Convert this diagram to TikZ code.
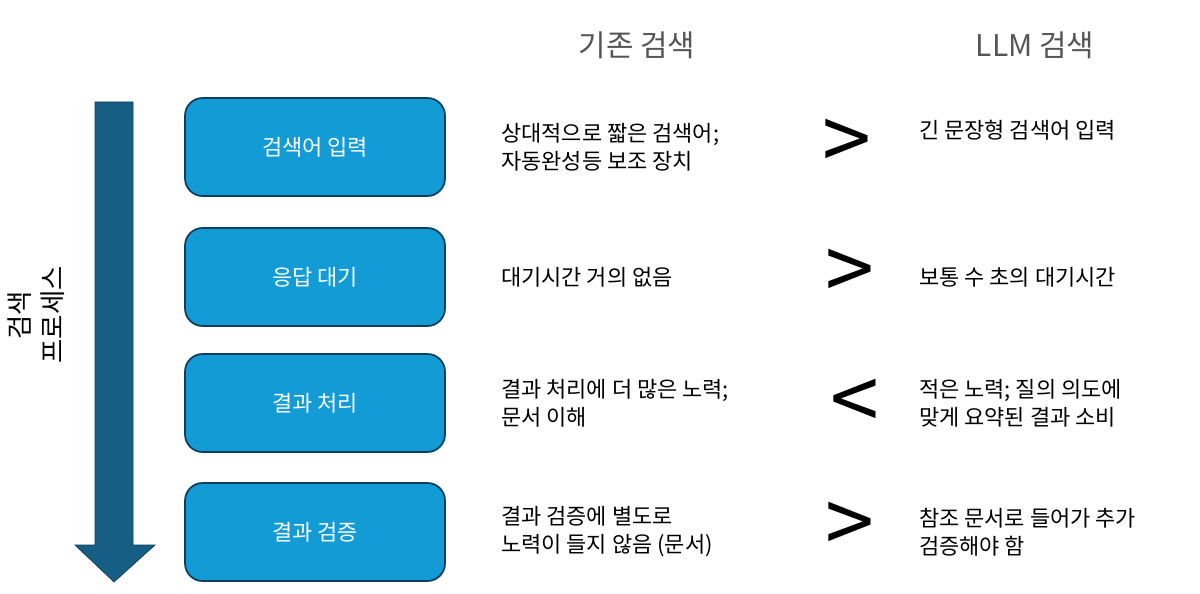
\documentclass[tikz,border=0pt]{standalone}
\usepackage{fontspec}
\setmainfont{Noto Sans CJK KR}
\usetikzlibrary{positioning,shapes.arrows}
\definecolor{boxblue}{HTML}{139BD6}
\definecolor{boxline}{HTML}{0D3F5C}
\definecolor{arrblue}{HTML}{165E84}
\definecolor{headgray}{HTML}{555555}

\begin{document}
\begin{tikzpicture}[x=0.02cm,y=-0.02cm,
  step box/.style={rectangle, rounded corners=10pt, draw=boxline, line width=1pt, fill=boxblue,
    minimum width=5.2cm, minimum height=1.96cm, text=white, font=\fontsize{12.5}{15}\selectfont},
  desc/.style={anchor=west, align=left, font=\fontsize{12.5}{16}\selectfont},
  cmp/.style={font=\fontsize{50}{50}\selectfont},
  head/.style={text=headgray, font=\fontsize{17}{20}\selectfont}]
  \useasboundingbox (0,0) rectangle (1200,594);

  \node[head] (H1) at (637,45) {기존 검색};
  \node[head] (H2) at (1035,45) {LLM 검색};

  % process arrow
  \fill[arrblue, draw=boxline] (95,102) -- (133,102) -- (133,545) -- (155,545)
    -- (114,582) -- (75,545) -- (95,545) -- cycle;
  \node[rotate=90, align=center, font=\fontsize{15}{19}\selectfont] (P) at (36,315) {검색\\프로세스};

  \node[step box] (S1) at (315,147) {검색어 입력};
  \node[step box] (S2) at (315,277) {응답 대기};
  \node[step box] (S3) at (315,403) {결과 처리};
  \node[step box] (S4) at (315,532) {결과 검증};

  \node[desc] (A1) at (495,147) {상대적으로 짧은 검색어;\\자동완성등 보조 장치};
  \node[desc] (A2) at (495,277) {대기시간 거의 없음};
  \node[desc] (A3) at (495,403) {결과 처리에 더 많은 노력;\\문서 이해};
  \node[desc] (A4) at (495,532) {결과 검증에 별도로\\노력이 들지 않음 (문서)};

  \node[cmp] (C1) at (847,145) {>};
  \node[cmp] (C2) at (850,275) {>};
  \node[cmp] (C3) at (855,405) {<};
  \node[cmp] (C4) at (850,528) {>};

  \node[desc] (B1) at (913,130) {긴 문장형 검색어 입력};
  \node[desc] (B2) at (913,277) {보통 수 초의 대기시간};
  \node[desc] (B3) at (913,403) {적은 노력; 질의 의도에\\맞게 요약된 결과 소비};
  \node[desc] (B4) at (913,532) {참조 문서로 들어가 추가\\검증해야 함};
\end{tikzpicture}
\end{document}
